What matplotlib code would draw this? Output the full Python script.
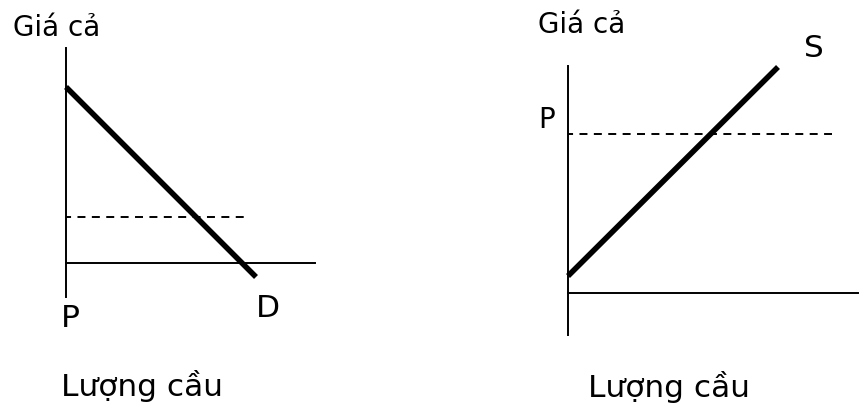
import matplotlib
matplotlib.use("Agg")
import matplotlib.pyplot as plt

# left panel: demand (price vs quantity), units arbitrary
demand_q = [0.0, 19.0]
demand_p = [17.6, -1.4]
left_price_q = [0.0, 18.3]
left_price_p = [4.6, 4.6]

# right panel: supply
supply_q = [0.0, 21.0]
supply_p = [1.7, 22.6]
right_price_q = [0.0, 26.4]
right_price_p = [15.9, 15.9]

W, H = 859, 405
fig = plt.figure(figsize=(W / 100, H / 100), dpi=100)
fig.patch.set_facecolor("white")


def make_axes(x0, y0, x1, y1):
    # pixel box -> figure fraction
    ax = fig.add_axes([x0 / W, 1 - y1 / H, (x1 - x0) / W, (y1 - y0) / H])
    for s in ["top", "right"]:
        ax.spines[s].set_visible(False)
    ax.spines["left"].set_position(("data", 0))
    ax.spines["bottom"].set_position(("data", 0))
    for s in ["left", "bottom"]:
        ax.spines[s].set_linewidth(1.4)
    ax.set_xticks([])
    ax.set_yticks([])
    ax.patch.set_alpha(0)
    return ax


kw = dict(family="DejaVu Sans", va="baseline", ha="left", clip_on=False)
big = 22.5
small = 20
dash = dict(color="black", lw=1.4, linestyle=(1.5, (4.1, 3.3)), clip_on=False)

ax1 = make_axes(66, 48, 315, 297)
ax1.set_xlim(0, 24.9)
ax1.set_ylim(-3.4, 21.5)
ax1.plot(demand_q, demand_p, color="black", lw=4.0, solid_capstyle="butt", clip_on=False)
ax1.plot(left_price_q, left_price_p, **dash)
ax1.text(-5.3, 22.7, "Giá cả", fontsize=small, **kw)
ax1.text(-0.5, -6.4, "P", fontsize=big, **kw)
ax1.text(19.0, -5.4, "D", fontsize=big, **kw)
ax1.text(-0.5, -13.3, "Lượng cầu", fontsize=big, **kw)

ax2 = make_axes(568, 66, 858, 335)
ax2.set_xlim(0, 29.0)
ax2.set_ylim(-4.2, 22.7)
ax2.plot(supply_q, supply_p, color="black", lw=4.0, solid_capstyle="butt", clip_on=False)
ax2.plot(right_price_q, right_price_p, **dash)
ax2.text(-3.0, 26.0, "Giá cả", fontsize=small, **kw)
ax2.text(23.6, 23.6, "S", fontsize=big, **kw)
ax2.text(-3.0, 16.5, "P", fontsize=small, **kw)
ax2.text(2.0, -10.4, "Lượng cầu", fontsize=big, **kw)

fig.savefig("out.png", dpi=100)
